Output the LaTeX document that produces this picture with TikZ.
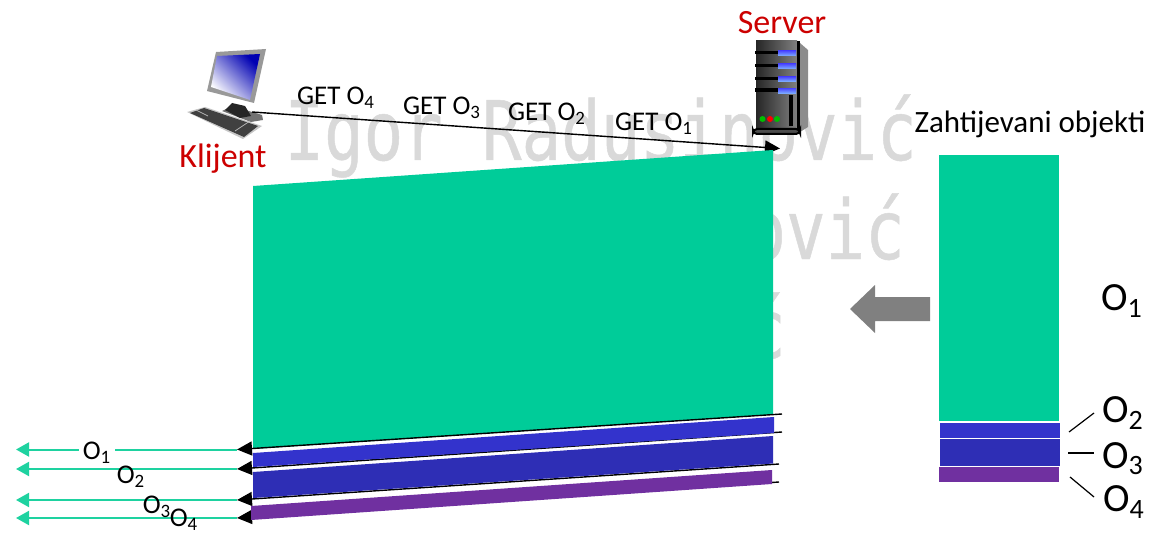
\documentclass[tikz,border=0pt]{standalone}
\usepackage{fontspec}
\setmainfont{Carlito}
\newfontfamily\markfont[FakeStretch=0.8,FakeBold=0.6]{DejaVu Sans Mono}
\usetikzlibrary{arrows.meta}
\definecolor{objgreen}{HTML}{00CC99}
\definecolor{linegreen}{HTML}{1ED2A0}
\definecolor{objblue}{HTML}{3333CC}
\definecolor{objnavy}{HTML}{2E2EB5}
\definecolor{objpurple}{HTML}{7030A0}
\definecolor{redtext}{HTML}{CC0000}
\definecolor{markgray}{HTML}{D9D9D9}
\tikzset{
    blacktip/.style = {-{Triangle[length=7.5pt,width=7pt]}, line width=0.7pt},
    greentip/.style = {-{Triangle[length=6.5pt,width=7pt]}, line width=1pt, color=linegreen},
    tick/.style = {line width=0.6pt},
    msg/.style = {font=\fontsize{13.5}{15}\selectfont, inner sep=0pt},
    small/.style = {font=\fontsize{13.5}{15}\selectfont, inner sep=0pt},
    big/.style = {font=\fontsize{20}{23}\selectfont, inner sep=0pt},
    role/.style = {font=\fontsize{17}{19}\selectfont, color=redtext, inner sep=0pt},
    watermark/.style = {font=\fontsize{41}{44}\selectfont\markfont, color=markgray, inner sep=0pt, anchor=base east}
}
\begin{document}
\begin{tikzpicture}[x=0.5pt, y=-0.5pt]
    \useasboundingbox (0,0) rectangle (1149,534);

    \node[watermark] (mark1) at (917,160) {Igor Radusinović};
    \node[watermark] (mark2) at (905,259) {ović};
    \node[watermark] (mark3) at (786,358) {ć};

    \fill[color = gray!80] (216,52) -- (266,49) -- (254,103) -- (207,91) -- cycle;
    \shade[top color = blue!70!black, bottom color = white, shading angle = -45] (217,56) -- (260,54) -- (250,100) -- (211,87) -- cycle;
    \fill[color = black!55] (222,111) -- (232,106) -- (262,115) -- (263,120) -- (251,122) -- cycle;
    \fill[color = black!85] (225,110) -- (232,103) -- (245,106) -- (251,116) -- (240,118) -- cycle;
    \fill[color = gray!45] (187,112) -- (205,107) -- (262,126) -- (243,139) -- cycle;
    \fill[color = black!75] (190,113) -- (204,108) -- (258,126) -- (244,137) -- cycle;
    \draw[color = gray!60, line width = 0.4pt] (196,110) -- (208,116);
    \draw[color = gray!60, line width = 0.4pt] (235,131) -- (250,121);

    \fill[color = black!45] (800,43) -- (808,50) -- (808,127) -- (800,132) -- cycle;
    \shade[left color = black!85, right color = black!50] (756,41) rectangle (797,128);
    \fill[color = black] (797,41) rectangle (800,132);
    \filldraw[fill = black!70, draw = black, line width = 1pt, rounded corners = 2pt] (753,129) rectangle (800,134);
    \fill[color = black] (755,51) rectangle (778,54.5);
    \fill[color = black] (755,64) rectangle (778,67.5);
    \fill[color = black] (755,77) rectangle (778,80.5);
    \fill[color = black] (755,88.5) rectangle (778,92);
    \shade[top color = blue!70, bottom color = cyan!40!blue!50] (778,51) rectangle (796,56);
    \shade[top color = blue!70, bottom color = cyan!40!blue!50] (778,64) rectangle (796,69);
    \shade[top color = blue!70, bottom color = cyan!40!blue!50] (778,77) rectangle (796,81.5);
    \shade[top color = blue!70, bottom color = cyan!40!blue!50] (778,88.5) rectangle (796,93.5);
    \fill[color = black] (789,95) rectangle (793,126);
    \fill[color = green!75!black] (762.5,119) circle (3);
    \fill[color = red] (770,119) circle (3);
    \fill[color = green!75!black] (777,119) circle (3);

    \coordinate (client) at (252,112);
    \coordinate (server) at (780,148.5);
    \draw[blacktip] (client) -- (server);

    \fill[color = objgreen] (253,186) -- (773,150) -- (773,414.5) -- (253,449) -- cycle;

    \coordinate (end1) at (782,414);
    \coordinate (end2) at (782,432);
    \coordinate (end3) at (779,464);
    \coordinate (end4) at (779,482);
    \coordinate (tip1) at (237,449.5);
    \coordinate (tip2) at (237,469);
    \coordinate (tip3) at (237,500);
    \coordinate (tip4) at (237,518);
    \coordinate (out1) at (16,449.5);
    \coordinate (out2) at (16,469);
    \coordinate (out3) at (16,500);
    \coordinate (out4) at (16,518);

    \draw[greentip] (tip1) -- (out1);
    \draw[greentip] (tip2) -- (out2);
    \draw[greentip] (tip3) -- (out3);
    \draw[greentip] (tip4) -- (out4);

    \draw[blacktip] (end1) -- (tip1);
    \draw[blacktip] (end2) -- (tip2);
    \draw[blacktip] (end3) -- (tip3);
    \draw[blacktip] (end4) -- (tip4);

    \fill[color = objblue] (253,453) -- (774,417) -- (774,433) -- (253,467) -- cycle;
    \fill[color = objnavy] (253,472) -- (773,436) -- (773,463.5) -- (253,498) -- cycle;
    \fill[color = objpurple] (251,506) -- (772,470) -- (772,484) -- (251,520) -- cycle;

    \node[small, fill = white, inner xsep = 2pt, inner ysep = 0pt] (sent1) at (97,453) {O\textsubscript{1}};
    \node[small] (sent2) at (131,477) {O\textsubscript{2}};
    \node[small] (sent3) at (157,507) {O\textsubscript{3}};
    \node[small] (sent4) at (184,520) {O\textsubscript{4}};

    \node[msg] (get4) at (336,98) {GET O\textsubscript{4}};
    \node[msg] (get3) at (442,108) {GET O\textsubscript{3}};
    \node[msg] (get2) at (547,114) {GET O\textsubscript{2}};
    \node[msg] (get1) at (654,124) {GET O\textsubscript{1}};

    \node[role] (klijent) at (223,159) {Klijent};
    \node[role] (serverlabel) at (782,23) {Server};
    \node[inner sep = 0pt, font = \fontsize{15.5}{18}\selectfont] (title) at (1030,124) {Zahtijevani objekti};

    \fill[color = objgreen] (939,155) rectangle (1059,421);
    \fill[color = objblue] (940,423) rectangle (1060,438);
    \fill[color = objnavy] (940,439) rectangle (1060,466);
    \fill[color = objpurple] (939,467) rectangle (1059,482);

    \fill[color = black!50] (930,297) -- (875,297) -- (875,285) -- (850,309) -- (875,333) -- (875,321) -- (930,321) -- cycle;

    \node[big] (obj1) at (1122,301) {O\textsubscript{1}};
    \node[big] (obj2) at (1123,413) {O\textsubscript{2}};
    \node[big] (obj3) at (1123,459) {O\textsubscript{3}};
    \node[big] (obj4) at (1124,502) {O\textsubscript{4}};

    \coordinate (from2) at (1069,432);
    \coordinate (from3) at (1068,453);
    \coordinate (from4) at (1070,477);
    \coordinate (to2) at (1094,413);
    \coordinate (to3) at (1094,453);
    \coordinate (to4) at (1094,497);
    \draw[tick] (from2) -- (to2);
    \draw[tick] (from3) -- (to3);
    \draw[tick] (from4) -- (to4);
\end{tikzpicture}
\end{document}
